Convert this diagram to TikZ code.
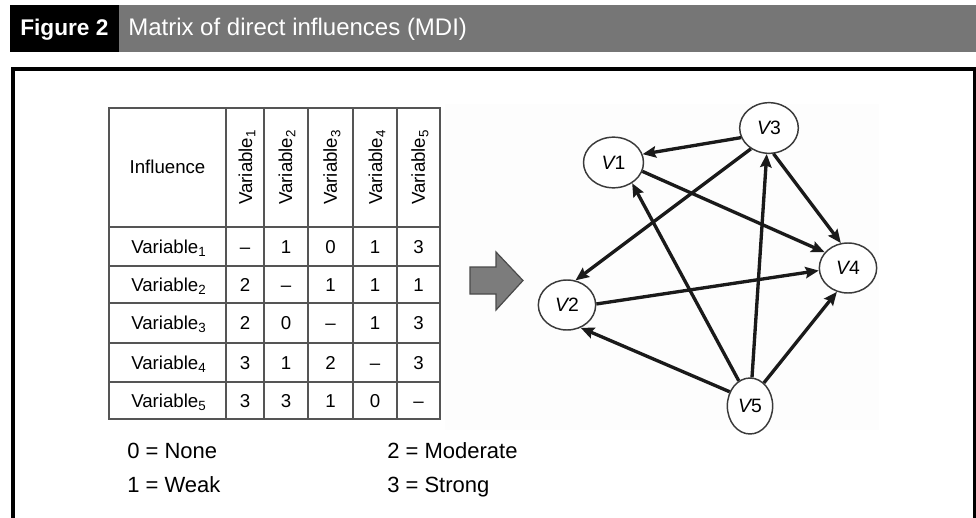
\documentclass[tikz,border=0pt]{standalone}
\usepackage{fontspec}
\setmainfont{Liberation Sans}
\usetikzlibrary{shapes.geometric,arrows.meta}
\definecolor{hdrgray}{HTML}{767676}
\definecolor{tblline}{HTML}{555555}
\definecolor{nodeline}{HTML}{3A3A3A}
\definecolor{edgecol}{HTML}{1A1A1A}
\definecolor{arrfill}{HTML}{7C7C7C}
\definecolor{arredge}{HTML}{4A4A4A}
\definecolor{lightbg}{HTML}{FDFDFD}
\newcommand{\vsub}[1]{\raisebox{-0.35ex}{\fontsize{10}{10}\selectfont #1}}
\tikzset{
  cell/.style={font=\fontsize{14}{16}\selectfont, inner sep=0pt, anchor=base},
  legend/.style={font=\fontsize{16.5}{19}\selectfont, inner sep=0pt, anchor=base west},
  vnode/.style={ellipse, draw=nodeline, line width=1.1pt, fill=white, inner sep=0pt,
                font=\fontsize{14.5}{17}\selectfont},
  infl/.style={draw=edgecol, line width=2.5pt, -{Stealth[length=10pt,width=8.5pt,inset=1.5pt]}},
  grid/.style={draw=tblline, line width=1.1pt}
}
\begin{document}
\begin{tikzpicture}[x=0.75pt,y=-0.75pt]
\useasboundingbox (0,0) rectangle (976,518);
% header
\fill[black] (10,5) rectangle (119,52);
\fill[hdrgray] (119,5) rectangle (976,52);
\node[anchor=base west, inner sep=0pt, text=white, font=\bfseries\fontsize{17}{20}\selectfont] (fig) at (20,35) {Figure 2};
\node[anchor=base west, inner sep=0pt, text=white, font=\fontsize{18}{20}\selectfont] (ttl) at (128,35) {Matrix of direct influences (MDI)};
% frame
\draw[line width=3pt] (13,540) -- (13,69) -- (975,69) -- (975,540);
% light background of graph
\fill[lightbg] (445,104) rectangle (879,430);
% table grid
\draw[grid] (109,108) rectangle (440,419);
\foreach \x in {226,264,308,353,397} \draw[grid] (\x,108) -- (\x,419);
\foreach \y in {227,266,303,343,382} \draw[grid] (109,\y) -- (440,\y);
\node[cell] (infl) at (167.5,173) {Influence};
\foreach \cx [count=\j] in {247,287,332,377,420} {
  \node[cell, anchor=center, rotate=90] (h\j) at (\cx,167.5) {Variable\vsub{\j}};
}
\foreach \row [count=\i] in {{\textendash,1,0,1,3},{2,\textendash,1,1,1},{2,0,\textendash,1,3},{3,1,2,\textendash,3},{3,3,1,0,\textendash}} {
  \pgfmathsetmacro\cy{{246.5,284.5,323,362.5,400.5}[\i-1]+6.5}
  \node[cell, anchor=base west] (r\i) at (131,\cy) {Variable\vsub{\i}};
  \foreach \v [count=\j] in \row {
    \pgfmathsetmacro\cx{{245,286,330.5,375,418.5}[\j-1]}
    \node[cell] (m\i\j) at (\cx,\cy) {\v};
  }
}
% legend
\node[legend] (l0) at (127,458) {0 = None};
\node[legend] (l1) at (127,492) {1 = Weak};
\node[legend] (l2) at (387,458) {2 = Moderate};
\node[legend] (l3) at (387,492) {3 = Strong};
% block arrow
\draw[fill=arrfill, draw=arredge, line width=0.9pt, line join=miter]
  (470,267) -- (496,267) -- (496,252) -- (523,280.5) -- (496,310) -- (496,294) -- (470,294) -- cycle;
% graph nodes
\node[vnode, minimum width=45pt, minimum height=38pt] (V1) at (613.5,162.5) {{\itshape V}1};
\node[vnode, minimum width=44pt, minimum height=38pt] (V3) at (769,128) {{\itshape V}3};
\node[vnode, minimum width=43pt, minimum height=37.5pt] (V4) at (848,268) {{\itshape V}4};
\node[vnode, minimum width=43pt, minimum height=37.5pt] (V2) at (567,305) {{\itshape V}2};
\node[vnode, minimum width=34pt, minimum height=42pt] (V5) at (750,406) {{\itshape V}5};
% influences
\draw[infl] (V3.199) -- (V1.16);
\draw[infl] (V3.229) -- (V2.71);
\draw[infl] (V3.280) -- (V4.106);
\draw[infl] (V1.343) -- (V4.146);
\draw[infl] (V2.2) -- (V4.185);
\draw[infl] (V5.114) -- (V1.312);
\draw[infl] (V5.86) -- (V3.265);
\draw[infl] (V5.145) -- (V2.301);
\draw[infl] (V5.59) -- (V4.245);
\end{tikzpicture}
\end{document}
